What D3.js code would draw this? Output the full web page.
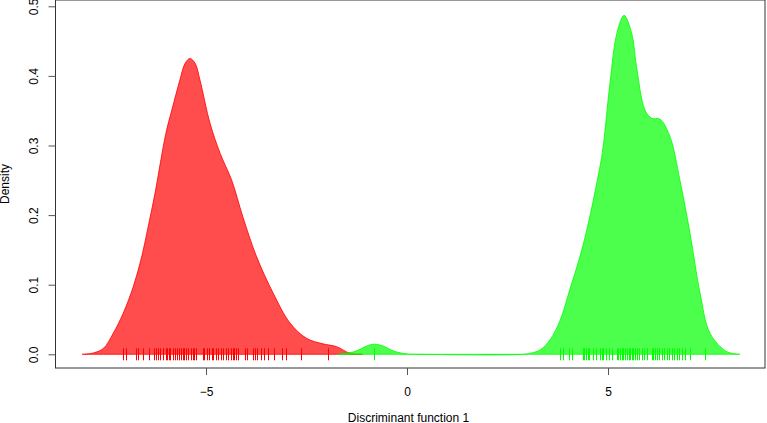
<!DOCTYPE html>
<html>
<head>
<meta charset="utf-8">
<script src="https://cdn.jsdelivr.net/npm/d3@7"></script>
<style>
  body { margin: 0; background: #fff; }
  text { font-family: "Liberation Sans", Arial, sans-serif; }
</style>
</head>
<body>
<svg></svg>
<script>
// density curves: [x, density]
var redDensity = [[-8.08,0],[-7.8,0.002],[-7.55,0.0086],[-7.31,0.030],[-7.06,0.059],[-6.81,0.097],
  [-6.60,0.140],[-6.44,0.183],[-6.27,0.231],
  [-6.0,0.317],[-5.85,0.351],[-5.65,0.394],[-5.52,0.418],[-5.40,0.425],[-5.27,0.418],[-5.15,0.394],
  [-4.90,0.332],[-4.65,0.289],[-4.36,0.250],[-4.08,0.197],[-3.74,0.140],[-3.33,0.088],[-2.91,0.045],
  [-2.5,0.023],[-2.09,0.015],[-1.75,0.011],[-1.42,0.0015],[-1.1,0]];
var greenDensity = [[-1.72,0],[-1.3,0.004],[-1.0,0.012],[-0.82,0.0145],[-0.6,0.012],[-0.3,0.004],
  [0.0,0.0005],[0.3,0],[2.9,0],[3.1,0.002],[3.31,0.0062],[3.56,0.021],[3.81,0.049],[4.05,0.093],
  [4.30,0.140],[4.51,0.188],[4.72,0.246],[4.86,0.290],[5.05,0.390],[5.22,0.461],[5.40,0.487],
  [5.59,0.461],[5.71,0.413],[5.92,0.351],
  [6.09,0.339],[6.29,0.338],[6.54,0.313],[6.79,0.250],[7.04,0.174],[7.29,0.088],[7.54,0.030],
  [7.95,0.004],[8.28,0]];

// rug values
var redRug = [-7.06,-7.00,-6.74,-6.70,-6.57,-6.41,-6.29,-6.25,-6.20,-6.14,-6.08,-6.00,-5.96,-5.92,
  -5.89,-5.83,-5.77,-5.71,-5.66,-5.62,-5.58,-5.54,-5.50,-5.44,-5.38,-5.33,-5.29,-5.25,-5.08,-5.05,
  -4.98,-4.93,-4.86,-4.82,-4.75,-4.69,-4.63,-4.57,-4.51,-4.45,-4.39,-4.34,-4.30,-4.26,-4.21,-4.03,
  -3.99,-3.84,-3.78,-3.74,-3.63,-3.56,-3.47,-3.30,-3.10,-3.02,-2.64,-1.96];
var greenRug = [-0.81,3.81,3.89,4.04,4.10,4.37,4.41,4.45,4.50,4.53,4.62,4.70,4.80,4.84,4.88,4.95,
  5.03,5.09,5.22,5.26,5.30,5.34,5.38,5.42,5.47,5.51,5.55,5.59,5.63,5.67,5.73,5.78,5.84,5.90,5.96,
  6.09,6.13,6.17,6.21,6.28,6.34,6.39,6.46,6.52,6.58,6.64,6.71,6.77,6.83,6.92,7.04,7.41];

var xTicks = [-5, 0, 5];
var yTicks = [0, 0.1, 0.2, 0.3, 0.4, 0.5];

var svg = d3.select("svg").attr("width", 767).attr("height", 423);

var x = d3.scaleLinear().domain([-5, 5]).range([206, 608]);
var y = d3.scaleLinear().domain([0, 0.5]).range([354.3, 6.3]);

var area = d3.area().curve(d3.curveCatmullRom.alpha(0.5))
  .x(function(d) { return x(d[0]); })
  .y0(y(0))
  .y1(function(d) { return Math.min(y(0), y(d[1])); });

function drawDensity(data, fill, stroke) {
  svg.append("path").datum(data)
    .attr("fill", fill).attr("stroke", stroke).attr("stroke-width", 1)
    .attr("d", area);
}
drawDensity(redDensity, "rgba(255,0,0,0.7)", "rgba(255,0,0,0.8)");
drawDensity(greenDensity, "rgba(0,255,0,0.7)", "rgba(0,255,0,0.8)");

function drawRug(vals, color) {
  svg.append("g").selectAll("line").data(vals).enter().append("line")
    .attr("x1", function(d) { return Math.round(x(d)) + 0.5; })
    .attr("x2", function(d) { return Math.round(x(d)) + 0.5; })
    .attr("y1", y(0) - 6).attr("y2", y(0) + 6)
    .attr("stroke", color).attr("stroke-width", 1);
}
drawRug(redRug, "#ff0000");
drawRug(greenRug, "#00ff00");

// box
svg.append("rect").attr("x", 55.5).attr("y", 0).attr("width", 709.5).attr("height", 368)
  .attr("fill", "none").attr("stroke", "#333").attr("stroke-width", 1);

// x axis
var xa = svg.append("g").attr("transform", "translate(0,368)")
  .call(d3.axisBottom(x).tickValues(xTicks).tickSize(7).tickPadding(12).tickFormat(d3.format("d")));
xa.select(".domain").remove();
xa.selectAll("line").attr("stroke", "#555");
xa.selectAll("text").attr("font-size", 12).attr("fill", "#000")
  .attr("font-family", "Liberation Sans, Arial, sans-serif");

// y axis, labels turned like R does
var ya = svg.append("g").attr("transform", "translate(55.5,0)")
  .call(d3.axisLeft(y).tickValues(yTicks).tickSize(7).tickFormat(d3.format(".1f")));
ya.select(".domain").remove();
ya.selectAll("line").attr("stroke", "#555");
ya.selectAll("text").attr("font-size", 12).attr("fill", "#000")
  .attr("font-family", "Liberation Sans, Arial, sans-serif")
  .attr("text-anchor", "middle").attr("dy", 0)
  .attr("x", 0).attr("y", 0)
  .attr("transform", "translate(-17.5,0) rotate(-90)");

svg.append("text").attr("x", 408.5).attr("y", 422).attr("text-anchor", "middle")
  .attr("font-size", 12).text("Discriminant function 1");
svg.append("text").attr("transform", "translate(9,184) rotate(-90)").attr("text-anchor", "middle")
  .attr("font-size", 12).text("Density");
</script>
</body>
</html>
